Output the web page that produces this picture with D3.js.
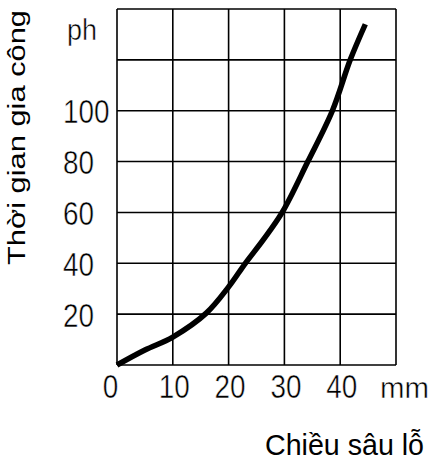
<!DOCTYPE html>
<html>
<head>
<meta charset="utf-8">
<script src="https://cdn.jsdelivr.net/npm/d3@7"></script>
<style>
  html, body { margin: 0; padding: 0; background: #fff; }
  svg { display: block; }
  text { font-family: "Liberation Sans Narrow", "Arial Narrow", "Liberation Sans", sans-serif; fill: #000; }
</style>
</head>
<body>
<svg id="chart" width="432" height="460"></svg>
<script>
// ---- data ----
const depthMm   = [0, 5, 10, 16, 20, 23, 26.2, 29.6, 34.2, 38.6, 41.8, 44.5];
const timeMin   = [0, 5.9, 11, 20.4, 30.7, 40, 49.2, 60, 80, 100, 120, 134];
const xTickVals = [0, 10, 20, 30, 40];
const yTickVals = [20, 40, 60, 80, 100];
const xGridVals = [0, 10, 20, 30, 40, 50];
const yGridVals = [0, 20, 40, 60, 80, 100, 120, 140];
const xUnit = "mm";
const yUnit = "ph";
const xTitle = "Chiều sâu lỗ";
const yTitle = "Thời gian gia công";

// ---- layout ----
const W = 432, H = 460;
const mLeft = 117, mRight = 396, mTop = 9, mBottom = 365;
const digitW = 15.5;

const svg = d3.select("#chart");
svg.append("rect").attr("width", W).attr("height", H).attr("fill", "#fff");

const x = d3.scaleLinear().domain([0, 50]).range([mLeft, mRight]);
const y = d3.scaleLinear().domain([0, 140]).range([mBottom, mTop]);

// grid
const grid = svg.append("g").attr("stroke", "#000").attr("stroke-width", 1.6);
grid.selectAll("line.v").data(xGridVals).join("line").attr("class", "v")
  .attr("x1", d => x(d)).attr("x2", d => x(d))
  .attr("y1", y(0)).attr("y2", y(140));
grid.selectAll("line.h").data(yGridVals).join("line").attr("class", "h")
  .attr("x1", x(0)).attr("x2", x(50))
  .attr("y1", d => y(d)).attr("y2", d => y(d));

// y tick labels (left-aligned column)
const yAxis = d3.axisLeft(y).tickValues(yTickVals).tickSize(0).tickPadding(0);
const gy = svg.append("g").attr("transform", `translate(${mLeft},0)`).call(yAxis);
gy.select(".domain").remove();
gy.selectAll("text")
  .attr("x", 63 - mLeft).attr("dy", "0.36em")
  .attr("text-anchor", "start")
  .attr("textLength", d => String(d).length * digitW).attr("lengthAdjust", "spacingAndGlyphs")
  .style("font-size", "33px")
  .attr("stroke", "#fff").attr("stroke-width", 0.5);

// x tick labels
const xAxis = d3.axisBottom(x).tickValues(xTickVals).tickSize(0).tickPadding(0);
const gx = svg.append("g").attr("transform", `translate(0,${mBottom})`).call(xAxis);
gx.select(".domain").remove();
gx.selectAll("text")
  .attr("y", 33).attr("dy", 0)
  .attr("dx", d => d === 0 ? -7 : 1)
  .attr("textLength", d => String(d).length * digitW).attr("lengthAdjust", "spacingAndGlyphs")
  .style("font-size", "33px")
  .attr("stroke", "#fff").attr("stroke-width", 0.5);

// units
svg.append("text").attr("x", 380).attr("y", mBottom + 33)
  .attr("text-anchor", "start").style("font-size", "30px")
  .attr("textLength", 49).attr("lengthAdjust", "spacingAndGlyphs")
  .attr("stroke", "#fff").attr("stroke-width", 0.5)
  .text(xUnit);
svg.append("text").attr("x", 67).attr("y", y(128))
  .attr("text-anchor", "start").style("font-size", "29px")
  .attr("textLength", 30).attr("lengthAdjust", "spacingAndGlyphs")
  .attr("stroke", "#fff").attr("stroke-width", 0.5)
  .text(yUnit);

// titles
svg.append("text").attr("x", 265).attr("y", 455)
  .attr("text-anchor", "start").style("font-size", "29px")
  .attr("textLength", 159).attr("lengthAdjust", "spacingAndGlyphs")
  .text(xTitle);
svg.append("text").attr("transform", "translate(25,265) rotate(-90)")
  .attr("text-anchor", "start").style("font-size", "23px")
  .attr("textLength", 255).attr("lengthAdjust", "spacingAndGlyphs")
  .text(yTitle);

// curve
const pts = depthMm.map((d, i) => [d, timeMin[i]]);
const line = d3.line().x(d => x(d[0])).y(d => y(d[1])).curve(d3.curveCatmullRom.alpha(0.5));
svg.append("path").datum(pts)
  .attr("d", line)
  .attr("fill", "none").attr("stroke", "#000")
  .attr("stroke-width", 5.5).attr("stroke-linejoin", "round").attr("stroke-linecap", "butt");
</script>
</body>
</html>
